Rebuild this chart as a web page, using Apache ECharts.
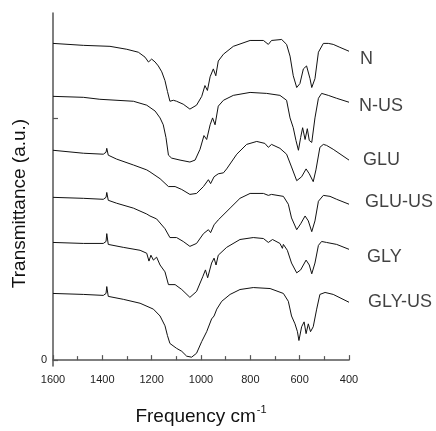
<!DOCTYPE html>
<html>
<head>
<meta charset="utf-8">
<script src="https://cdn.jsdelivr.net/npm/echarts@6/dist/echarts.min.js"></script>
<style>
  html, body { margin: 0; padding: 0; background: #fff; }
  #chart { width: 436px; height: 431px; }
</style>
</head>
<body>
<div id="chart"></div>
<script>
// FTIR spectra, offset vertically (a.u.), frequency in cm-1
var names = ['N', 'N-US', 'GLU', 'GLU-US', 'GLY', 'GLY-US'];

var specN = [
  [1600, 323], [1477, 321], [1369, 320], [1301, 317], [1254, 314], [1227, 309],
  [1213, 304], [1200, 307], [1186, 304], [1173, 300], [1159, 294], [1146, 285],
  [1136, 274], [1126, 264], [1112, 265], [1099, 264], [1072, 261], [1045, 256],
  [1018, 260], [997, 269], [984, 280], [974, 275], [963, 289], [950, 297],
  [940, 290], [930, 305], [909, 312], [869, 320], [801, 326], [747, 326],
  [727, 322], [714, 326], [673, 327], [653, 322], [639, 310], [626, 290],
  [612, 278], [599, 282], [585, 297], [572, 300], [558, 287], [551, 278],
  [538, 287], [524, 314], [504, 323], [484, 323], [464, 322], [437, 319], [400, 315]
];

var specNUS = [
  [1600, 269], [1477, 268], [1410, 266], [1274, 264], [1220, 260], [1186, 254],
  [1166, 247], [1153, 240], [1142, 227], [1132, 209], [1119, 206], [1085, 204],
  [1045, 202], [1024, 204], [1004, 215], [988, 229], [977, 225], [963, 240],
  [953, 247], [943, 240], [930, 259], [909, 265], [869, 270], [801, 273],
  [734, 272], [680, 270], [653, 265], [639, 247], [626, 237], [615, 224],
  [605, 214], [596, 227], [588, 237], [578, 225], [569, 236], [561, 224],
  [551, 222], [538, 247], [524, 267], [511, 272], [484, 270], [450, 267], [400, 263]
];

var specGLU = [
  [1600, 214], [1477, 211], [1396, 210], [1385, 212], [1382, 216], [1376, 209],
  [1342, 205], [1274, 199], [1220, 194], [1207, 192], [1166, 185], [1132, 177],
  [1105, 177], [1078, 174], [1045, 169], [1018, 170], [990, 177], [970, 184],
  [961, 180], [947, 187], [930, 190], [909, 191], [896, 195], [855, 210],
  [815, 220], [774, 223], [741, 221], [727, 217], [714, 220], [680, 216],
  [653, 210], [633, 197], [612, 183], [592, 187], [574, 195], [561, 190],
  [545, 182], [534, 194], [518, 217], [504, 220], [491, 219], [464, 215], [400, 204]
];

var specGLUUS = [
  [1600, 166], [1477, 165], [1396, 164], [1385, 166], [1382, 171], [1376, 163],
  [1342, 160], [1274, 155], [1220, 149], [1207, 147], [1180, 144], [1146, 134],
  [1126, 125], [1099, 125], [1072, 121], [1045, 116], [1018, 119], [990, 129],
  [970, 133], [961, 130], [947, 138], [930, 143], [882, 155], [842, 165],
  [801, 170], [747, 170], [727, 168], [714, 169], [666, 167], [646, 159],
  [633, 145], [612, 133], [596, 139], [578, 147], [565, 142], [551, 131],
  [538, 142], [524, 162], [504, 168], [477, 167], [450, 164], [400, 159]
];

var specGLY = [
  [1600, 120], [1477, 119], [1396, 119], [1385, 121], [1382, 129], [1376, 118],
  [1315, 115], [1247, 112], [1220, 109], [1211, 101], [1203, 107], [1193, 102],
  [1180, 105], [1166, 97], [1146, 90], [1132, 77], [1105, 77], [1078, 72],
  [1045, 64], [1018, 70], [993, 85], [982, 92], [973, 84], [957, 99],
  [947, 104], [939, 97], [930, 107], [896, 115], [842, 123], [788, 125],
  [747, 124], [727, 120], [710, 123], [680, 119], [672, 118], [670, 114],
  [666, 118], [650, 112], [633, 99], [612, 89], [596, 92], [574, 102],
  [561, 97], [551, 88], [538, 99], [524, 117], [511, 121], [491, 120], [450, 118], [400, 113]
];

var specGLYUS = [
  [1600, 68], [1477, 67], [1396, 66], [1385, 68], [1382, 75], [1376, 65],
  [1315, 62], [1247, 58], [1193, 52], [1166, 45], [1146, 35], [1136, 25],
  [1126, 17], [1099, 12], [1078, 9], [1058, 4], [1038, 3], [1018, 7],
  [997, 19], [977, 29], [957, 42], [947, 45], [936, 52], [916, 60],
  [882, 67], [842, 72], [788, 74], [720, 73], [666, 68], [646, 60],
  [633, 45], [619, 37], [609, 29], [603, 20], [592, 34], [582, 39],
  [574, 27], [565, 37], [556, 29], [545, 34], [531, 52], [518, 67],
  [497, 69], [464, 67], [400, 59]
];

var spectra = [specN, specNUS, specGLU, specGLUUS, specGLY, specGLYUS];
// where each name sits relative to the end of its curve
var labelOffsets = [[6, 8], [5, 4], [9, 0], [11, -2], [13, 8], [14, 0]];

var fontFam = 'Liberation Sans, Arial, sans-serif';
var chart = echarts.init(document.getElementById('chart'));

var series = [];
var labelData = [];
for (var i = 0; i < spectra.length; i++) {
  series.push({
    name: names[i],
    type: 'line',
    data: spectra[i],
    showSymbol: false,
    silent: true,
    lineStyle: { color: '#111', width: 1 }
  });
  var last = spectra[i][spectra[i].length - 1];
  labelData.push({
    value: last,
    name: names[i],
    label: { offset: labelOffsets[i] }
  });
}
// curve names at the right end of each spectrum
series.push({
  type: 'scatter',
  data: labelData,
  symbolSize: 0,
  clip: false,
  silent: true,
  label: {
    show: true,
    position: 'right',
    distance: 5,
    formatter: '{b}',
    fontFamily: fontFam,
    fontSize: 18,
    color: '#111'
  }
});

var option = {
  backgroundColor: '#fff',
  animation: false,
  grid: { left: 53, right: 87, top: 13, bottom: 58 },
  xAxis: {
    type: 'value',
    inverse: true,
    min: 400,
    max: 1600,
    interval: 200,
    name: '{a|Frequency cm}{s|-1}',
    nameLocation: 'middle',
    nameGap: 38,
    nameTextStyle: {
      rich: {
        a: { fontFamily: fontFam, fontSize: 19, color: '#111' },
        s: { fontFamily: fontFam, fontSize: 11, color: '#111', verticalAlign: 'top', padding: [0, 0, 14, 1] }
      }
    },
    axisLine: { lineStyle: { color: '#555', width: 1.5 } },
    axisTick: { inside: true, length: 5, lineStyle: { color: '#555', width: 1.2 } },
    minorTick: { show: true, splitNumber: 2, length: 4, lineStyle: { color: '#555', width: 1.2 } },
    axisLabel: {
      fontFamily: fontFam, fontSize: 11, color: '#222', margin: 8,
      formatter: function (v) { return String(v); }
    },
    splitLine: { show: false }
  },
  yAxis: {
    type: 'value',
    min: -6,
    max: 354,
    name: 'Transmittance (a.u.)',
    nameLocation: 'middle',
    nameGap: 24,
    nameTextStyle: {
      fontFamily: fontFam,
      fontSize: 19,
      color: '#111',
      padding: [0, 28, 0, 0]
    },
    axisLine: { show: true, lineStyle: { color: '#555', width: 1.5 } },
    axisTick: { show: true, inside: true, length: 5, customValues: [0, 247], lineStyle: { color: '#555', width: 1.2 } },
    axisLabel: { show: true, customValues: [0], fontFamily: fontFam, fontSize: 11, color: '#222', margin: 6 },
    splitLine: { show: false }
  },
  series: series
};

chart.setOption(option);
</script>
</body>
</html>
